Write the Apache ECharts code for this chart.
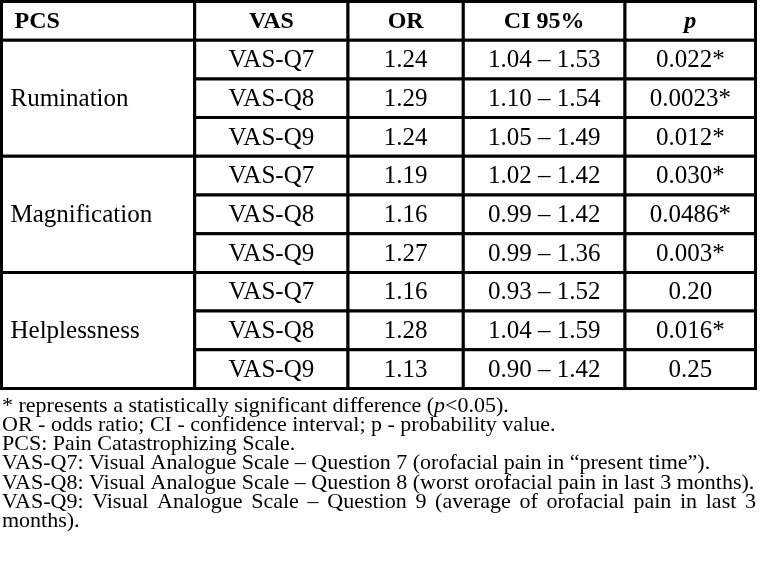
<!DOCTYPE html>
<html>
<head>
<meta charset="utf-8">
<script src="https://cdn.jsdelivr.net/npm/echarts@6/dist/echarts.min.js"></script>
<style>html,body{margin:0;padding:0;background:#fff;}#chart{width:760px;height:581px;}</style>
</head>
<body>
<div id="chart"></div>
<script>
// ---- data ----
const columns = ['PCS', 'VAS', 'OR', 'CI 95%', 'p'];
const groups = ['Rumination', 'Magnification', 'Helplessness'];
const vasItems = ['VAS-Q7', 'VAS-Q8', 'VAS-Q9'];
const orValues = [1.24, 1.29, 1.24, 1.19, 1.16, 1.27, 1.16, 1.28, 1.13];
const ciLower = [1.04, 1.10, 1.05, 1.02, 0.99, 0.99, 0.93, 1.04, 0.90];
const ciUpper = [1.53, 1.54, 1.49, 1.42, 1.42, 1.36, 1.52, 1.59, 1.42];
const pValues = ['0.022*', '0.0023*', '0.012*', '0.030*', '0.0486*', '0.003*', '0.20', '0.016*', '0.25'];
const notes = [
  '* represents a statistically significant difference ({i|p}<0.05).',
  'OR - odds ratio; CI - confidence interval; p - probability value.',
  'PCS: Pain Catastrophizing Scale.',
  'VAS-Q7: Visual Analogue Scale – Question 7 (orofacial pain in “present time”).',
  'VAS-Q8: Visual Analogue Scale – Question 8 (worst orofacial pain in last 3 months).'
];
const justifiedNote = 'VAS-Q9: Visual Analogue Scale – Question 9 (average of orofacial pain in last 3';
const lastNote = 'months).';

// ---- layout (not data) ----
const colEdges = [0, 193.2, 346.5, 461.8, 623.5, 754];
const FAMILY = 'Liberation Serif';
const CELL_SIZE = 25;

// ---- build cells ----
const cells = [];
columns.forEach((c, i) => cells.push([i, 0, 1, c, 'header']));
groups.forEach((g, gi) => cells.push([0, 1 + gi * 3, 3, g, 'group']));
const nRows = orValues.length;
for (let r = 0; r < nRows; r++) {
  const row = 1 + r;
  cells.push([1, row, 1, vasItems[r % 3], 'body']);
  cells.push([2, row, 1, orValues[r].toFixed(2), 'body']);
  cells.push([3, row, 1, ciLower[r].toFixed(2) + ' – ' + ciUpper[r].toFixed(2), 'body']);
  cells.push([4, row, 1, pValues[r], 'body']);
}

function renderCell(params, api) {
  const col = api.value(0), row = api.value(1), span = api.value(2);
  const d = cells[params.dataIndex];
  const kind = d[4], text = d[3];
  const p0 = api.coord([colEdges[col], row]);
  const p1 = api.coord([colEdges[col + 1], row + span]);
  const x = p0[0], y = p0[1], w = p1[0] - p0[0], h = p1[1] - p0[1];
  let weight = 'normal', fstyle = 'normal', align = 'center', tx = x + w / 2, size = CELL_SIZE;
  if (kind === 'header') {
    weight = 'bold'; size = 24;
    if (col === 4) fstyle = 'italic';
    if (col === 0) { align = 'left'; tx = x + 13; }
  } else if (kind === 'group') {
    align = 'left'; tx = x + 9;
  }
  return {
    type: 'group',
    children: [
      { type: 'rect', shape: { x: x, y: y, width: w, height: h },
        style: { fill: '#fff', stroke: '#000', lineWidth: 3 } },
      { type: 'text', style: { text: text, x: tx, y: y + h / 2 + 1, align: align,
        verticalAlign: 'middle', fontFamily: FAMILY, fontSize: size,
        fontWeight: weight, fontStyle: fstyle, fill: '#000' } }
    ]
  };
}

// ---- footnotes ----
const NOTE_SIZE = 22;
const baseY = 406, lineGap = 19.2, noteX = 2, noteRight = 756;
function noteStyle(t) {
  return { text: t, fontFamily: FAMILY, fontSize: NOTE_SIZE, fill: '#000', verticalAlign: 'middle',
    rich: { i: { fontStyle: 'italic', fontSize: NOTE_SIZE, fontFamily: FAMILY, fill: '#000' } } };
}
const graphics = [];
notes.forEach((t, i) => {
  graphics.push({ type: 'text', silent: true, x: noteX, y: baseY + i * lineGap, style: noteStyle(t) });
});
// justified line
(function () {
  const ctx = document.createElement('canvas').getContext('2d');
  ctx.font = NOTE_SIZE + 'px "' + FAMILY + '"';
  const words = justifiedNote.split(' ');
  const widths = words.map(w => ctx.measureText(w).width);
  const total = widths.reduce((a, b) => a + b, 0);
  const gap = (noteRight - noteX - total) / (words.length - 1);
  let cx = noteX;
  const y = baseY + notes.length * lineGap;
  words.forEach((w, i) => {
    graphics.push({ type: 'text', silent: true, x: cx, y: y, style: noteStyle(w) });
    cx += widths[i] + gap;
  });
  graphics.push({ type: 'text', silent: true, x: noteX, y: y + lineGap, style: noteStyle(lastNote) });
})();

const chart = echarts.init(document.getElementById('chart'), null, { renderer: 'canvas' });
chart.setOption({
  backgroundColor: '#fff',
  animation: false,
  grid: { left: 1.5, top: 1.5, width: 754, height: 387, containLabel: false },
  xAxis: { type: 'value', min: 0, max: 754, show: false },
  yAxis: { type: 'value', min: 0, max: 10, inverse: true, show: false },
  series: [{
    type: 'custom',
    renderItem: renderCell,
    data: cells.map(c => [c[0], c[1], c[2]]),
    encode: { x: 0, y: 1 },
    clip: false,
    silent: true
  }],
  graphic: graphics
});
</script>
</body>
</html>
